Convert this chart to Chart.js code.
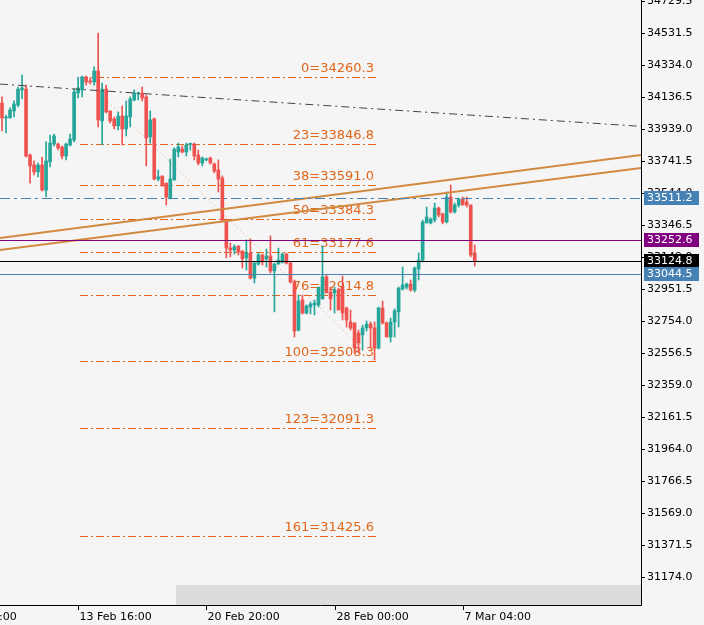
<!DOCTYPE html>
<html><head><meta charset="utf-8">
<script src="https://cdn.jsdelivr.net/npm/chart.js@4"></script>
<style>html,body{margin:0;padding:0;background:#f5f5f5}#wrap{width:704px;height:625px}</style>
</head><body><div id="wrap"><canvas id="c" width="704" height="625"></canvas></div>
<script>
const opens=[34099,34007,34007,34050,34087,34180,34185,33778,33717,33674,33717,33562,33736,33846,33846,33828,33772,33840,33871,34161,34180,34260,34235,34229,34297,33989,34185,34050,34001,33958,34019,33939,34013,34118,34155,34161,34137,33890,34001,33630,33649,33605,33513,33624,33797,33815,33797,33844,33846,33778,33729,33748,33760,33723,33686,33636,33377,33204,33192,33217,33186,33143,33174,33019,33105,33161,33137,33155,33063,33105,33118,33167,33111,32995,32698,32884,32803,32840,32853,32853,32890,33026,32933,32927,32945,32963,32834,32748,32742,32680,32668,32711,32735,32711,32587,32834,32742,32655,32748,32810,32951,32963,32982,32945,33075,33130,33359,33359,33377,33451,33414,33365,33519,33427,33470,33507,33488,33470,33174];
const highs=[34137,34025,34069,34112,34198,34272,34210,33784,33742,33729,33766,33859,33902,33908,33852,33834,33852,33908,34185,34260,34266,34266,34254,34322,34531,34223,34210,34050,34013,34044,34081,34112,34137,34180,34167,34198,34149,34050,34007,33686,33649,33605,33754,33822,33852,33834,33852,33852,33852,33809,33766,33760,33766,33729,33748,33649,33383,33235,33223,33217,33186,33254,33260,33115,33174,33167,33198,33279,33111,33204,33174,33174,33118,33007,32914,32914,32853,32871,32884,32957,33217,33038,32963,32963,32957,33032,32840,32822,32742,32698,32729,32754,32748,32748,32840,32877,32748,32772,32828,32963,33087,32988,33007,33087,33174,33377,33457,33390,33482,33457,33420,33550,33593,33482,33513,33519,33519,33470,33223];
const lows=[33927,33914,34007,34013,34075,34124,33766,33605,33655,33643,33556,33519,33705,33834,33809,33754,33748,33834,33859,34131,34137,34210,34217,34210,33952,33840,34038,33976,33939,33933,33840,33896,33952,34112,34118,34112,33711,33852,33624,33618,33587,33470,33507,33624,33766,33791,33772,33809,33748,33717,33711,33742,33723,33668,33550,33365,33143,33149,33167,33161,33081,33069,33013,32988,33099,33099,33087,33050,32810,33105,33111,33105,32988,32655,32692,32797,32797,32797,32791,32840,32890,32927,32822,32803,32822,32760,32717,32698,32557,32557,32575,32692,32587,32513,32581,32735,32655,32624,32655,32717,32945,32951,32939,32933,33007,33124,33359,33353,33365,33396,33353,33359,33420,33420,33457,33470,33457,33149,33093];
const closes=[34007,34013,34056,34093,34185,34192,33772,33711,33674,33717,33562,33742,33852,33896,33822,33772,33846,33877,34167,34192,34260,34229,34229,34297,33995,34185,34044,33989,33958,34019,33939,34019,34124,34161,34161,34131,33883,33995,33630,33643,33587,33519,33630,33815,33828,33797,33840,33850,33772,33729,33760,33754,33729,33680,33630,33377,33204,33192,33211,33180,33137,33174,33019,33111,33161,33118,33155,33063,33105,33130,33167,33111,32995,32692,32877,32803,32847,32859,32865,32963,33026,32927,32890,32945,32822,32803,32760,32711,32587,32618,32711,32735,32711,32587,32834,32742,32655,32748,32816,32957,32976,32982,32945,33081,33130,33365,33396,33383,33451,33408,33365,33519,33427,33470,33507,33470,33470,33161,33125];
const slotCount=160;
const categories=Array.from({length:slotCount},(_,i)=>String(i));
const yTicks=[34729.5,34531.5,34334.0,34136.5,33939.0,33741.5,33544.0,33346.5,33149.0,32951.5,32754.0,32556.5,32359.0,32161.5,31964.0,31766.5,31569.0,31371.5,31174.0];
const xTickLabels=["6 Feb 12:00","13 Feb 16:00","20 Feb 20:00","28 Feb 00:00","7 Mar 04:00"];
const xTickIndex=[-13,19,51,83,115];
const fibNames=["0","23","38","50","61","76","100","123","161"];
const fibValues=[34260.3,33846.8,33591.0,33384.3,33177.6,32914.8,32508.3,32091.3,31425.6];
const fibRange=[19.5,93.3];
const fibDiag=[[20,34260.3],[93,32508.3]];
const hLineValues=[33511.2,33252.6,33124.8,33044.5];
const hLineColors=["#4682b4","#800080","#000000","#4682b4"];
const hLineDash=[[10,4,3,4],[],[],[]];
const grayTrend=[[-0.5,34216],[159.5,33955]];
const orangeTrends=[[[-0.5,33266],[159.5,33778]],[[-0.5,33192],[159.5,33698]]];

const UP="#26a69a",DN="#ef5350";
const col=opens.map((o,i)=>closes[i]>=o?UP:DN);

const overlay={id:'overlay',
 beforeDatasetsDraw(ch){
  const c=ch.ctx,xs=ch.scales.x,ys=ch.scales.y,a=ch.chartArea;
  c.save();
  c.fillStyle="#dcdcdc";c.fillRect(176,585,a.right-176,a.bottom-585);
  c.strokeStyle="#e0661a";c.lineWidth=1;c.setLineDash([8,3,2,3]);
  const fx0=Math.round(xs.getPixelForValue(fibRange[0])),fx1=Math.round(xs.getPixelForValue(fibRange[1]));
  fibValues.forEach(v=>{const y=Math.round(ys.getPixelForValue(v))+0.5;c.beginPath();c.moveTo(fx0,y);c.lineTo(fx1,y);c.stroke();});
  c.setLineDash([1,3]);c.strokeStyle="#e8a870";
  c.beginPath();c.moveTo(xs.getPixelForValue(fibDiag[0][0]),ys.getPixelForValue(fibDiag[0][1]));
  c.lineTo(xs.getPixelForValue(fibDiag[1][0]),ys.getPixelForValue(fibDiag[1][1]));c.stroke();
  c.setLineDash([]);
  c.font="13px 'DejaVu Sans'";c.fillStyle="#e0661a";c.textAlign="right";c.textBaseline="bottom";
  fibValues.forEach((v,k)=>{const y=ys.getPixelForValue(v);c.fillText(fibNames[k]+"="+v.toFixed(1),fx1-2,y-2);});
  c.restore();
 },
 afterDatasetsDraw(ch){
  const c=ch.ctx,xs=ch.scales.x,ys=ch.scales.y,a=ch.chartArea;
  const P=p=>[xs.getPixelForValue(p[0]),ys.getPixelForValue(p[1])];
  c.save();
  c.beginPath();c.rect(a.left,a.top,a.right-a.left,a.bottom-a.top);c.clip();
  c.strokeStyle="#444";c.lineWidth=1;c.setLineDash([8,4,2,4]);
  let p0=P(grayTrend[0]),p1=P(grayTrend[1]);c.beginPath();c.moveTo(...p0);c.lineTo(...p1);c.stroke();
  c.setLineDash([]);c.strokeStyle="#d08a40";c.lineWidth=2;
  orangeTrends.forEach(t=>{const q0=P(t[0]),q1=P(t[1]);c.beginPath();c.moveTo(...q0);c.lineTo(...q1);c.stroke();});
  c.lineWidth=1;
  hLineValues.forEach((v,k)=>{const y=Math.round(ys.getPixelForValue(v))+0.5;c.strokeStyle=hLineColors[k];c.setLineDash(hLineDash[k]);c.beginPath();c.moveTo(a.left,y);c.lineTo(a.right,y);c.stroke();});
  c.restore();
  c.save();
  c.strokeStyle="#000";c.lineWidth=1;c.setLineDash([]);
  c.beginPath();c.moveTo(a.right+0.5,0);c.lineTo(a.right+0.5,a.bottom+0.5);c.lineTo(0,a.bottom+0.5);c.stroke();
  c.font="11px 'DejaVu Sans'";c.fillStyle="#000";c.textAlign="left";c.textBaseline="middle";
  yTicks.forEach(v=>{const y=Math.round(ys.getPixelForValue(v))+0.5;c.beginPath();c.moveTo(a.right,y);c.lineTo(a.right+4,y);c.stroke();c.fillText(v.toFixed(1),a.right+6,y);});
  c.textBaseline="top";
  xTickIndex.forEach((ix,k)=>{const x=Math.round(xs.getPixelForValue(ix))+0.5;c.beginPath();c.moveTo(x,a.bottom);c.lineTo(x,a.bottom+5);c.stroke();c.fillText(xTickLabels[k],x+1,a.bottom+7);});
  hLineValues.forEach((v,k)=>{const y=Math.round(ys.getPixelForValue(v));c.fillStyle=hLineColors[k];c.fillRect(a.right+3,y-7,55,14);c.fillStyle="#fff";c.textBaseline="middle";c.fillText(v.toFixed(1),a.right+6,y);});
  c.restore();
 }};

new Chart(document.getElementById('c'),{
 type:'bar',
 data:{labels:categories,datasets:[
  {data:highs.map((h,i)=>[lows[i],h]),backgroundColor:col,barThickness:1,grouped:false,order:2},
  {data:opens.map((o,i)=>[o,closes[i]]),backgroundColor:col,barThickness:3,grouped:false,minBarLength:1,order:1}
 ]},
 options:{responsive:false,animation:false,devicePixelRatio:1,
  layout:{padding:{left:0,top:0,right:63,bottom:20}},
  plugins:{legend:{display:false},tooltip:{enabled:false}},
  scales:{x:{display:false,offset:true},y:{display:false,min:31001,max:34735}}},
 plugins:[overlay]});
</script></body></html>
